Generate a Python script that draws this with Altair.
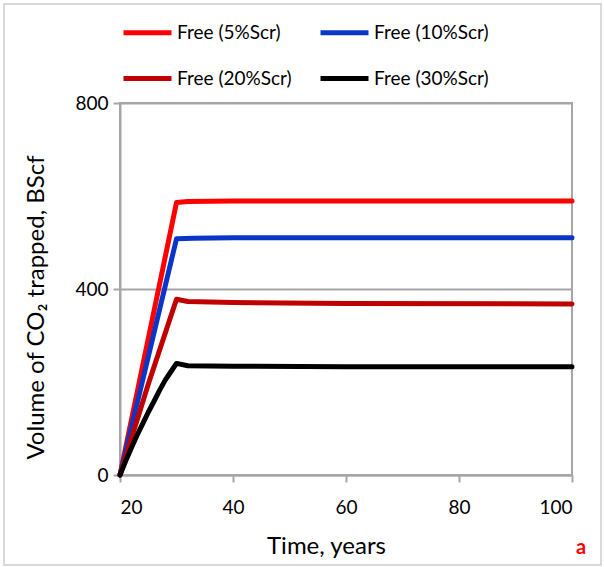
import altair as alt
import pandas as pd

# Volume of free CO2 trapped over time for four residual gas saturations
series_names = ["Free (5%Scr)", "Free (10%Scr)", "Free (20%Scr)", "Free (30%Scr)"]
series_colors = ["#ff0000", "#0a36c8", "#c00000", "#000000"]

years_5 = [20, 30, 32, 40, 60, 100]
vals_5 = [0, 586, 588, 589, 589, 589]

years_10 = [20, 30, 33, 40, 60, 100]
vals_10 = [0, 508, 509, 510, 510, 510]

years_20 = [20, 25, 30, 32, 40, 60, 100]
vals_20 = [0, 195, 378, 373, 371, 369, 368]

years_30 = [20, 21, 22, 23, 24, 25, 26, 27, 28, 29, 30, 32, 40, 60, 100]
vals_30 = [0, 30, 58, 85, 110, 135, 158, 182, 204, 222, 240, 235, 234, 233, 233]

rows = []
for name, ys, vs in zip(series_names,
                        [years_5, years_10, years_20, years_30],
                        [vals_5, vals_10, vals_20, vals_30]):
    for y, v in zip(ys, vs):
        rows.append({"series": name, "year": y, "volume": v})
df = pd.DataFrame(rows)

FONT = "Lato"
GRID = "#a6a6a6"

lines = alt.Chart(df).mark_line(strokeWidth=5, strokeCap="round", strokeJoin="round").encode(
    x=alt.X("year:Q",
            scale=alt.Scale(domain=[20, 100], nice=False),
            axis=alt.Axis(values=[20, 40, 60, 80, 100], title="Time, years",
                          grid=False, tickSize=7, labelPadding=16,
                          titleX=206, titleY=59, titleFontWeight="normal")),
    y=alt.Y("volume:Q",
            scale=alt.Scale(domain=[0, 800], nice=False),
            axis=alt.Axis(values=[0, 400, 800], title="Volume of CO₂ trapped, BScf",
                          grid=True, tickSize=7, labelPadding=5,
                          titleX=-72, titleY=204, titleFontWeight="normal")),
    color=alt.Color("series:N",
                    scale=alt.Scale(domain=series_names, range=series_colors),
                    legend=alt.Legend(title=None, orient="none", legendX=1, legendY=-97,
                                      direction="horizontal",
                                      columns=2, columnPadding=18, rowPadding=9,
                                      symbolType="stroke", symbolStrokeWidth=5,
                                      symbolSize=2304, labelOffset=3,
                                      labelFontSize=19, labelFont=FONT, labelColor="#000000")),
    order=alt.Order("year:Q"),
)

# light outer frame around the whole figure
frame = alt.Chart(pd.DataFrame({"k": [0]})).mark_rect(
    fill=None, stroke="#d9d9d9", strokeWidth=2
).encode(x=alt.value(-116), x2=alt.value(481), y=alt.value(-99), y2=alt.value(462))

panel_tag = alt.Chart(pd.DataFrame({"t": ["a"]})).mark_text(
    color="#ff0000", fontWeight="bold", fontSize=20, font=FONT
).encode(x=alt.value(461), y=alt.value(445), text="t:N")

chart = alt.layer(frame, lines, panel_tag).properties(
    width=452, height=372,
    autosize=alt.AutoSizeParams(type="none"),
    padding={"left": 120, "top": 103, "right": 32, "bottom": 92},
    background="white",
).configure_view(
    stroke=GRID, strokeWidth=2
).configure_axis(
    domainColor=GRID, domainWidth=2, tickColor=GRID, tickWidth=2,
    gridColor=GRID, gridWidth=2,
    labelFont=FONT, labelFontSize=19, labelColor="#000000",
    titleFont=FONT, titleFontSize=24, titleColor="#000000",
)

chart.save("out.html", embed_options={"renderer": "svg", "actions": False})
